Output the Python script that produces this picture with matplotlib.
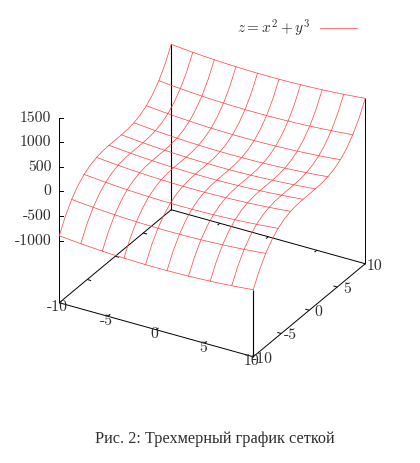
import matplotlib
matplotlib.use("Agg")
import matplotlib.pyplot as plt
import numpy as np

# sample positions along x and y (every 2nd one is an isoline)
x_vals = [-10, -8.89, -7.78, -6.67, -5.56, -4.44, -3.33, -2.22, -1.11, 0,
          1.11, 2.22, 3.33, 4.44, 5.56, 6.67, 7.78, 8.89, 10]
y_vals = [-10, -8.89, -7.78, -6.67, -5.56, -4.44, -3.33, -2.22, -1.11, 0,
          1.11, 2.22, 3.33, 4.44, 5.56, 6.67, 7.78, 8.89, 10]
# surface height contributions
x_part = [100, 79, 60.5, 44.5, 31, 19.7, 11.1, 4.9, 1.2, 0,
          1.2, 4.9, 11.1, 19.7, 31, 44.5, 60.5, 79, 100]
y_part = [-1000, -702, -471, -297, -172, -88, -37, -11, -1.4, 0,
          1.4, 11, 37, 88, 172, 297, 471, 702, 1000]

x_ticks = [-10, -5, 0, 5, 10]
y_ticks = [-10, -5, 0, 5, 10]
z_ticks = [-1000, -500, 0, 500, 1000, 1500]

Z_BASE = -2262
RED = "#ff4040"
TEXT = "#2e2e2e"
TICK_FONT = "cmr10"
plt.rcParams["mathtext.fontset"] = "cm"
plt.rcParams["axes.formatter.use_mathtext"] = True


def project(x, y, z=Z_BASE):
    # gnuplot view is orthographic so this is just affine, in image pixels
    x = np.asarray(x, dtype=float)
    y = np.asarray(y, dtype=float)
    z = np.asarray(z, dtype=float)
    px = 212.25 + 9.7 * x + 5.6 * y
    py = 283.25 + 2.7 * x - 4.65 * y - 0.0492 * (z - Z_BASE)
    return px, py


fig = plt.figure(figsize=(4.2, 4.63), dpi=100)
ax = fig.add_axes([0, 0, 1, 1])
ax.set_xlim(0, 420)
ax.set_ylim(463, 0)
ax.axis("off")

x_arr = np.array(x_vals)
y_arr = np.array(y_vals)
Z = np.array(x_part)[:, None] + np.array(y_part)[None, :]
top = {(a, b): Z[x_vals.index(a), y_vals.index(b)] for a in (-10, 10) for b in (-10, 10)}


def seg(x, y, z=Z_BASE, lw=0.7):
    px, py = project(x, y, z)
    ax.plot(px, py, color="black", lw=lw, solid_capstyle="butt", zorder=1)


# base frame
seg([-10, 10, 10, -10, -10], [-10, -10, 10, 10, -10])

# verticals
seg([-10, -10], [-10, -10], [Z_BASE, z_ticks[-1]])
seg([-10, -10], [10, 10], [Z_BASE, top[(-10, 10)]], lw=0.8)
seg([10, 10], [10, 10], [Z_BASE, top[(10, 10)]])
seg([10, 10], [-10, -10], [Z_BASE, top[(10, -10)]], lw=0.8)

# ticks on the base frame, mirrored on both sides
for t in x_ticks[1:-1]:
    seg([t, t], [-10, -9.6])
    seg([t, t], [10, 9.6])
for t in y_ticks[1:-1]:
    seg([-10, -9.6], [t, t])
    seg([10, 9.6], [t, t])

# z axis
px0, _ = project(-10, -10)
for t in z_ticks:
    _, py = project(-10, -10, t)
    ax.plot([px0, px0 + 4], [py, py], color="black", lw=0.7, zorder=1)
    ax.text(51.5, py, str(t), ha="right", va="center", family=TICK_FONT,
            fontsize=11.3, color=TEXT)

# wire surface
for i in range(0, len(x_vals), 2):
    px, py = project(np.full(len(y_vals), x_vals[i]), y_arr, Z[i, :])
    ax.plot(px, py, color=RED, lw=0.5, zorder=2)
for j in range(0, len(y_vals), 2):
    px, py = project(x_arr, np.full(len(x_vals), y_vals[j]), Z[:, j])
    ax.plot(px, py, color=RED, lw=0.5, zorder=2)

# axis labels
for t in x_ticks:
    px, py = project(t, -10)
    ax.text(px - 1.5, py + 4.5, str(t), ha="center", va="center",
            family=TICK_FONT, fontsize=11.3, color=TEXT, zorder=3)
for t in y_ticks:
    px, py = project(10, t)
    ax.text(px + 9.5, py + 2, str(t), ha="center", va="center",
            family=TICK_FONT, fontsize=11.3, color=TEXT, zorder=3)

# legend
ax.text(310, 28, r"$z = x^2 + y^3$", ha="right", va="center", fontsize=11, color=TEXT)
ax.plot([320, 357], [28, 28], color=RED, lw=0.5)

# caption
ax.text(214.5, 439, "Рис. 2: Трехмерный график сеткой", ha="center", va="center",
        family="Liberation Serif", fontsize=11.7, color=TEXT)

fig.savefig("out.png", dpi=100)
